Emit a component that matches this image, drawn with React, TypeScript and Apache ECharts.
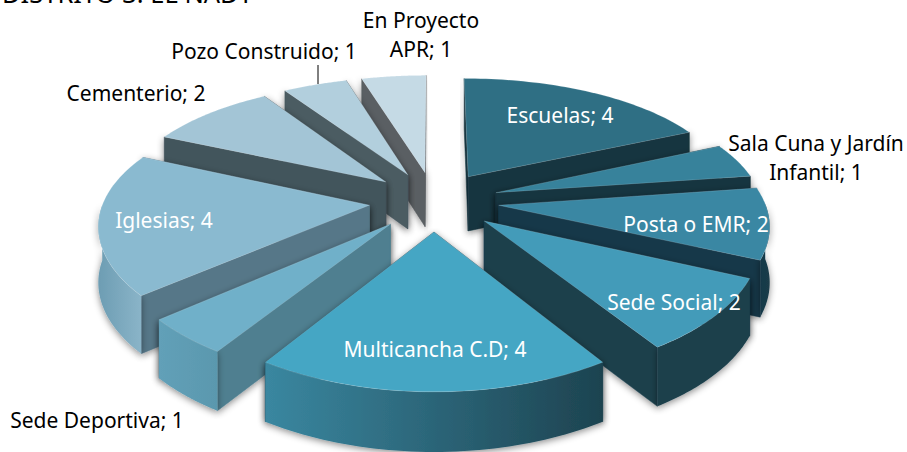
import React, { useEffect, useRef } from "react";
import * as echarts from "echarts";

const categories = ["Escuelas", "Sala Cuna y Jardín\nInfantil", "Posta o EMR", "Sede Social", "Multicancha C.D", "Sede Deportiva", "Iglesias", "Cementerio", "Pozo Construido", "En Proyecto\nAPR"];
const values = [4, 1, 2, 2, 4, 1, 4, 2, 1, 1];
const paintOrder = [9, 0, 8, 7, 1, 6, 2, 5, 3, 4];
const topColors = ["#2f6f84", "#37829b", "#3a87a3", "#439bb9", "#45a6c4", "#70b0c9", "#8abad0", "#a3c5d6", "#b2cfdd", "#c5dae5"];
const radialColors = ["#16343f", "#16343f", "#18394a", "#1b3f4c", "#1d4350", "#4f7f90", "#567788", "#42545c", "#4b5b62", "#5a5f63"];
const arcColorsA = ["#16343f", "#16343f", "#18394a", "#1b3f4c", "#3a87a0", "#62a0b8", "#6d9db3", "#42545c", "#4b5b62", "#5a5f63"];
const arcColorsB = ["#16343f", "#16343f", "#1a3c49", "#1b3f4c", "#1d4350", "#5a98ae", "#8ab4c8", "#42545c", "#4b5b62", "#5a5f63"];
const labelColors = ["#fff", "#000", "#fff", "#fff", "#fff", "#000", "#fff", "#000", "#000", "#000"];
const labelPositions = [[560, 115], [816, 157], [696, 224], [674, 302], [435, 349], [97, 420], [164, 220], [136, 93], [264, 51], [421, 34]];

const FONT = "'Noto Sans'";
const total = values.reduce((a, b) => a + b, 0);
const CX = 434, CY = 201, SX = 65, SY = 29.8, DY = 24.8, DX = 30, R = 4.09, EXPLODE = 1;

function project(X: number, Y: number) {
  const w = 1 + Y / DY;
  return { x: CX + (SX * X) / (1 + Y / DX), y: CY - (SY * Y) / w, w };
}
const wallHeight = (w: number) => 55 - 25 * (w - 1);

function renderItem(params: any, api: any) {
  const idx = api.value(0) as number;
  const cum = values.slice(0, idx).reduce((a, b) => a + b, 0);
  const a0 = (cum / total) * Math.PI * 2;
  const a1 = ((cum + values[idx]) / total) * Math.PI * 2;
  const mid = (a0 + a1) / 2;
  const ox = EXPLODE * Math.sin(mid), oy = EXPLODE * Math.cos(mid);
  const apex = project(ox, oy);
  const arc: any[] = [];
  const n = 48;
  for (let i = 0; i <= n; i++) {
    const t = a0 + ((a1 - a0) * i) / n;
    const p = project(ox + R * Math.sin(t), oy + R * Math.cos(t));
    arc.push({ ...p, t });
  }
  const down = (p: any): number[] => [p.x, p.y + wallHeight(p.w)];
  const up = (p: any): number[] => [p.x, p.y];
  const children: any[] = [];
  const radial = (p: any) => ({
    type: "polygon",
    shape: { points: [up(apex), up(p), down(p), down(apex)] },
    style: { fill: radialColors[idx], stroke: radialColors[idx], lineWidth: 0.5 },
  });
  const first = arc[0], last = arc[n];
  const walls = [first, last].sort((p, q) => p.y - q.y).map(radial);
  const visible = arc.filter((p) => Math.cos(p.t) <= 0.02);
  const shadow = { shadowBlur: 7, shadowColor: "rgba(0,0,0,0.45)", shadowOffsetY: 2 };
  children.push(...walls.map((w) => ({ ...w, style: { ...w.style, ...shadow } })));
  if (visible.length > 1) {
    children.push({
      type: "polygon",
      shape: { points: [...visible.map(up), ...visible.slice().reverse().map(down)] },
      style: {
        fill: new echarts.graphic.LinearGradient(0, 0, 1, 0, [
          { offset: 0, color: arcColorsA[idx] },
          { offset: 1, color: arcColorsB[idx] },
        ]),
        ...shadow,
      },
    });
  }
  children.push({
    type: "polygon",
    shape: { points: [up(apex), ...arc.map(up)] },
    style: { fill: topColors[idx], stroke: "rgba(255,255,255,0.25)", lineWidth: 0.6 },
  });
  return { type: "group", children };
}

export default function App() {
  const ref = useRef<HTMLDivElement>(null);
  useEffect(() => {
    const chart = echarts.init(ref.current!, undefined, { renderer: "svg" });
    chart.setOption({
      animation: false,
      backgroundColor: "#fff",
      series: [
        {
          type: "custom",
          coordinateSystem: "none",
          renderItem,
          clip: false,
          data: paintOrder.map((i) => ({ name: categories[i], value: [i, values[i]] })),
        },
      ],
      graphic: [
        {
          type: "text",
          x: 2,
          y: -20,
          z: 10,
          style: { text: "DISTRITO 3: EL NADY", font: `25.5px ${FONT}`, fill: "#000" },
        },
        { type: "line", z: 10, shape: { x1: 318, y1: 65, x2: 318, y2: 84 }, style: { stroke: "#000", lineWidth: 1 } },
        ...categories.map((c, i) => ({
          type: "text",
          x: labelPositions[i][0],
          y: labelPositions[i][1],
          z: 10,
          style: {
            text: `${c}; ${values[i]}`,
            font: `21px ${FONT}`,
            fill: labelColors[i],
            align: "center",
            verticalAlign: "middle",
            lineHeight: 29,
          },
        })),
      ],
    });
    return () => chart.dispose();
  }, []);
  return <div ref={ref} style={{ position: "fixed", left: 0, top: 0, width: 907, height: 452 }} />;
}
